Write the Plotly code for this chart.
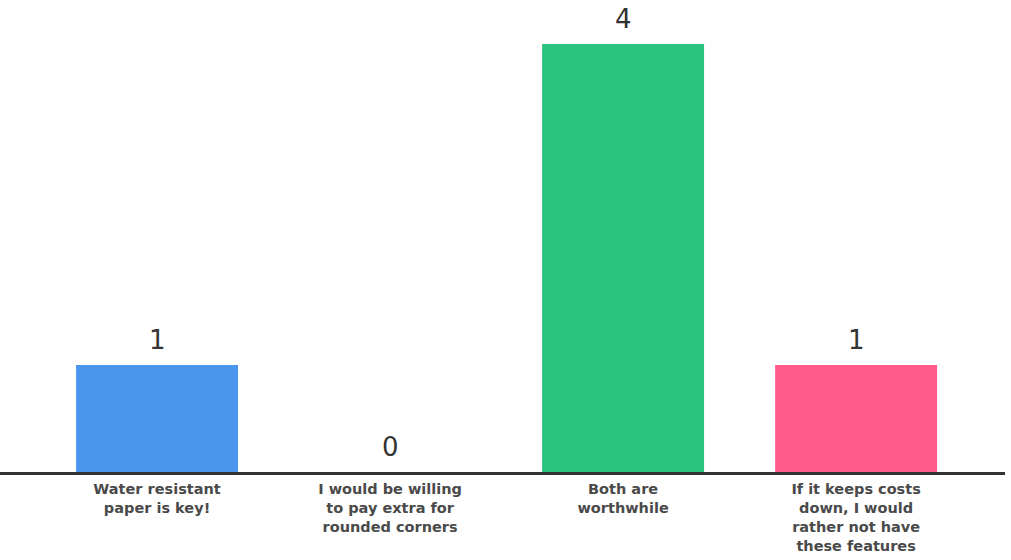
import plotly.graph_objects as go

# Survey responses: preference for paper features
categories = [
    "Water resistant<br>paper is key!",
    "I would be willing<br>to pay extra for<br>rounded corners",
    "Both are<br>worthwhile",
    "If it keeps costs<br>down, I would<br>rather not have<br>these features",
]
counts = [1, 0, 4, 1]
bar_colors = ["#4A95EE", "#2BC47E", "#2BC47E", "#FF5A8A"]

positions = list(range(len(categories)))

fig = go.Figure()
fig.add_trace(go.Bar(
    x=positions,
    y=counts,
    width=0.695,
    marker=dict(color=bar_colors, line=dict(width=0)),
    hoverinfo="skip",
))

# Value labels above each bar
for xi, v in zip(positions, counts):
    fig.add_annotation(
        x=xi, y=v, text=str(v), showarrow=False,
        yanchor="bottom", yshift=8,
        font=dict(family="DejaVu Sans", size=26, color="#333333"),
    )

fig.update_layout(
    width=1011, height=560,
    margin=dict(l=0, r=6, t=0, b=88),
    paper_bgcolor="white", plot_bgcolor="white",
    showlegend=False,
    xaxis=dict(
        range=[-0.674, 3.639],
        tickmode="array", tickvals=positions, ticktext=categories,
        showgrid=False, zeroline=False,
        showline=True, linecolor="#333333", linewidth=2.5,
        ticks="", fixedrange=True, ticklabelstandoff=2,
        tickfont=dict(family="DejaVu Sans", size=14.5, color="#4a4a4a", weight=600),
    ),
    yaxis=dict(
        range=[0, 4.41], visible=False, showgrid=False, zeroline=False,
        fixedrange=True,
    ),
)

fig.write_html("out.html")
